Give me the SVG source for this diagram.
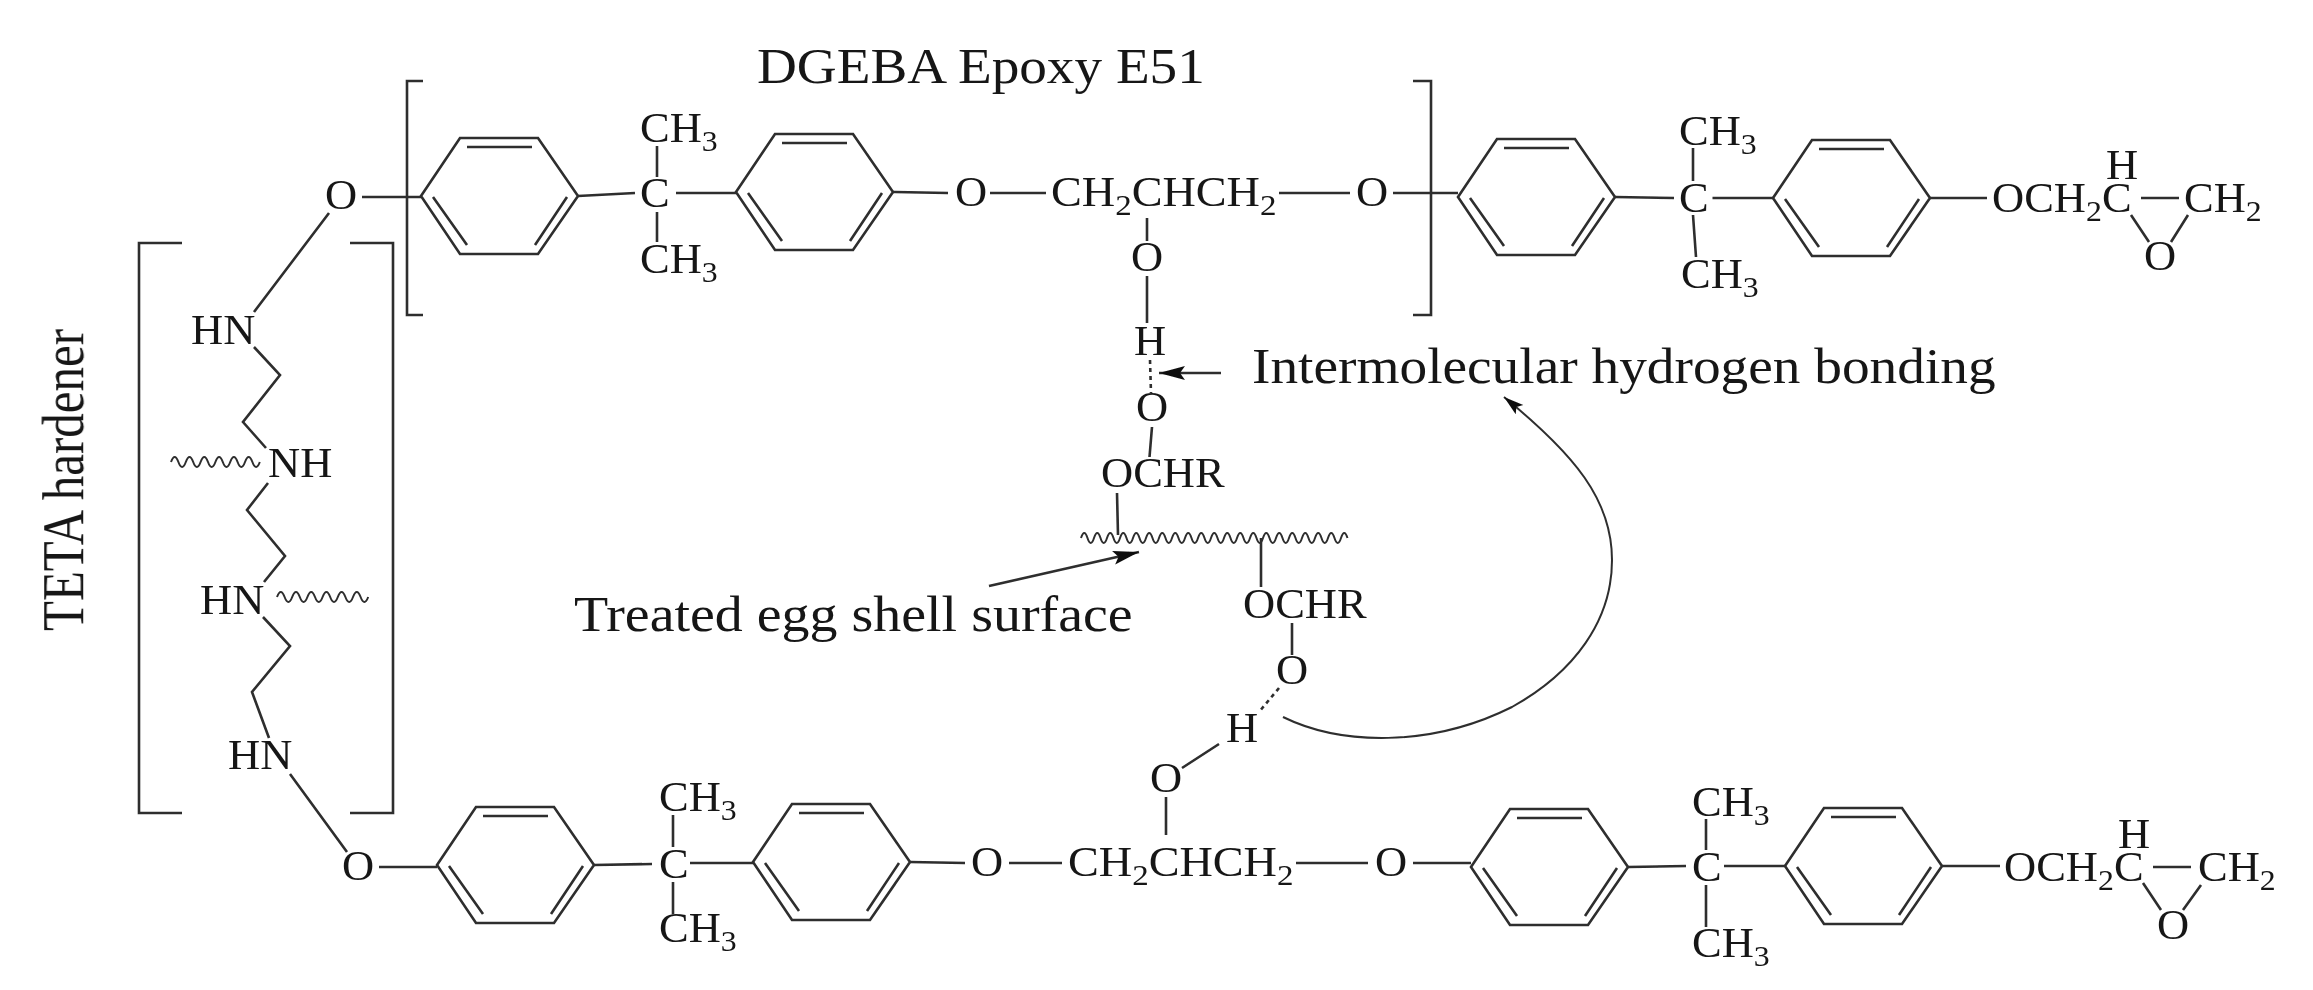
<svg xmlns="http://www.w3.org/2000/svg" xmlns:xlink="http://www.w3.org/1999/xlink" width="2313" height="990" viewBox="0 0 2313 990">
<style>
text{font-family:"Liberation Serif","Times New Roman",serif;fill:#151515}
.c{font-size:42px}
.s{font-size:30px}
.l{font-size:51px}
.b{fill:none;stroke:#2e2e2e;stroke-width:2.6;stroke-linecap:butt}
.t{fill:none;stroke:#2e2e2e;stroke-width:2.6}
.w{fill:none;stroke:#2e2e2e;stroke-width:2}
.d{fill:none;stroke:#2e2e2e;stroke-width:2.6;stroke-dasharray:4 4}
</style>
<defs>
<filter id="soft" x="0" y="0" width="100%" height="100%"><feGaussianBlur stdDeviation="0.5"/></filter>
<g id="ring" class="t">
<path d="M0 0L39 -58H117L157 0L117 58H39Z"/>
<path d="M46 -49H111M12 1L46 49M146 1L114 49"/>
</g>
<marker id="ah" markerUnits="userSpaceOnUse" markerWidth="30" markerHeight="16" refX="26" refY="7" orient="auto"><path d="M0 0L26 7L0 14L5 7Z" fill="#111"/></marker>
<marker id="ac" markerUnits="userSpaceOnUse" markerWidth="24" markerHeight="14" refX="20" refY="6" orient="auto"><path d="M0 0L20 6L0 12L4 6Z" fill="#111"/></marker>
</defs>
<rect width="2313" height="990" fill="#fff"/>
<g id="drawing" filter="url(#soft)">
<g id="connectors" class="b">
<path d="M362 197H421M578 196L635 193M676 193H736M657 146V177M657 212V242"/>
<path d="M893 192L948 193M990 193H1046M1279 193H1350M1393 193H1458"/>
<path d="M1147 218V241M1147 276V323"/>
<path class="d" d="M1150 360L1151 393"/>
<path d="M1152 427L1149.500 457M1117 493L1118 535M1261 538V587M1292 623V655"/>
<path class="d" d="M1279 688L1259 712"/>
<path d="M1219 744L1182 768M1166 797V835"/>
<path d="M329 213L254 312M254 347L280 375L243 422L266 448M268 483L247 510L285 556L264 582M263 617L290 646L252 692L269 738M290 774L347 852"/>
<path d="M379 867H437M594 865L652 864M690 863H753M673 815V847M673 882V914"/>
<path d="M910 862L965 863M1009 863H1062M1296 863H1368M1413 863H1471"/>
<path d="M1615 197L1674 198M1712.500 198H1773M1693 148V181M1693 215L1696 257M1930 198H1987M2141 198H2179M2131 215L2149 242M2188 215L2171 242"/>
<path d="M1628 867L1686 866M1724 866H1785M1706 819V850M1706 885V927M1942 866H2000M2153 867H2191M2143 883L2161 910M2201 885L2183 910"/>
<path d="M1221 373H1159" marker-end="url(#ah)"/>
<path d="M989 586L1139 552" marker-end="url(#ah)"/>
<path class="w" d="M1283 717C1340 745 1430 748 1512 707C1575 672 1612 620 1612 560C1612 500 1575 455 1504 397" marker-end="url(#ac)"/>
</g>

<g id="bracket-epoxy-left" class="t"><path d="M423 81H407V315H423"/></g>
<g id="bracket-epoxy-right" class="t"><path d="M1413 81H1431V315H1413"/></g>
<g id="bracket-teta-left" class="t"><path d="M182 243H139V813H182"/></g>
<g id="bracket-teta-right" class="t"><path d="M350 243H393V813H350"/></g>

<g id="surface"><path class="w" d="M1081 538q3.250 -10 6.500 0t6.500 0t6.500 0t6.500 0t6.500 0t6.500 0t6.500 0t6.500 0t6.500 0t6.500 0t6.500 0t6.500 0t6.500 0t6.500 0t6.500 0t6.500 0t6.500 0t6.500 0t6.500 0t6.500 0t6.500 0t6.500 0t6.500 0t6.500 0t6.500 0t6.500 0t6.500 0t6.500 0t6.500 0t6.500 0t6.500 0t6.500 0t6.500 0t6.500 0t6.500 0t6.500 0t6.500 0t6.500 0t6.500 0t6.500 0t6.500 0"/></g>
<g id="wave-nh"><path class="w" d="M171 462q3.700 -10 7.400 0t7.400 0t7.400 0t7.400 0t7.400 0t7.400 0t7.400 0t7.400 0t7.400 0t7.400 0t7.400 0t7.400 0"/></g>
<g id="wave-hn"><path class="w" d="M277 597q3.800 -10 7.600 0t7.600 0t7.600 0t7.600 0t7.600 0t7.600 0t7.600 0t7.600 0t7.600 0t7.600 0t7.600 0t7.600 0"/></g>

<g id="ring-a"><use xlink:href="#ring" href="#ring" x="421" y="196"/></g>
<g id="ring-b"><use xlink:href="#ring" href="#ring" x="736" y="192"/></g>
<g id="ring-c"><use xlink:href="#ring" href="#ring" x="1458" y="197"/></g>
<g id="ring-d"><use xlink:href="#ring" href="#ring" x="1773" y="198"/></g>
<g id="ring-e"><use xlink:href="#ring" href="#ring" x="437" y="865"/></g>
<g id="ring-f"><use xlink:href="#ring" href="#ring" x="753" y="862"/></g>
<g id="ring-g"><use xlink:href="#ring" href="#ring" x="1471" y="867"/></g>
<g id="ring-h"><use xlink:href="#ring" href="#ring" x="1785" y="866"/></g>

<g id="label-dgeba"><text class="l" transform="translate(757 83) scale(1.083 1)">DGEBA Epoxy E51</text></g>
<g id="label-teta"><text font-size="49" transform="translate(83 631) scale(1.2 1) rotate(-90)">TETA hardener</text></g>
<g id="label-hbond"><text class="l" transform="translate(1252 383) scale(1.085 1)">Intermolecular hydrogen bonding</text></g>
<g id="label-surface"><text class="l" transform="translate(574 631) scale(1.097 1)">Treated egg shell surface</text></g>

<g id="top-left-o"><text class="c" transform="translate(325 209) scale(1.06 1)">O</text></g>
<g id="hn1"><text class="c" transform="translate(191 344) scale(1.06 1)">HN</text></g>
<g id="nh"><text class="c" transform="translate(268 477) scale(1.06 1)">NH</text></g>
<g id="hn2"><text class="c" transform="translate(200 614) scale(1.06 1)">HN</text></g>
<g id="hn3"><text class="c" transform="translate(228 769) scale(1.06 1)">HN</text></g>
<g id="bottom-left-o"><text class="c" transform="translate(342 880) scale(1.06 1)">O</text></g>

<g id="cme2-a">
<text class="c" transform="translate(640 142) scale(1.06 1)">CH<tspan class="s" dy="9">3</tspan></text>
<text class="c" transform="translate(640 207) scale(1.06 1)">C</text>
<text class="c" transform="translate(640 273) scale(1.06 1)">CH<tspan class="s" dy="9">3</tspan></text>
</g>
<g id="cme2-b">
<text class="c" transform="translate(1679 145) scale(1.06 1)">CH<tspan class="s" dy="9">3</tspan></text>
<text class="c" transform="translate(1679 212) scale(1.06 1)">C</text>
<text class="c" transform="translate(1681 288) scale(1.06 1)">CH<tspan class="s" dy="9">3</tspan></text>
</g>
<g id="cme2-c">
<text class="c" transform="translate(659 811) scale(1.06 1)">CH<tspan class="s" dy="9">3</tspan></text>
<text class="c" transform="translate(659 878) scale(1.06 1)">C</text>
<text class="c" transform="translate(659 942) scale(1.06 1)">CH<tspan class="s" dy="9">3</tspan></text>
</g>
<g id="cme2-d">
<text class="c" transform="translate(1692 816) scale(1.06 1)">CH<tspan class="s" dy="9">3</tspan></text>
<text class="c" transform="translate(1692 881) scale(1.06 1)">C</text>
<text class="c" transform="translate(1692 957) scale(1.06 1)">CH<tspan class="s" dy="9">3</tspan></text>
</g>

<g id="linker-top">
<text class="c" transform="translate(955 206) scale(1.06 1)">O</text>
<text class="c" transform="translate(1051 206) scale(1.1 1)">CH<tspan class="s" dy="9">2</tspan><tspan dy="-9">CHCH</tspan><tspan class="s" dy="9">2</tspan></text>
<text class="c" transform="translate(1356 206) scale(1.06 1)">O</text>
</g>
<g id="hydroxyl-top">
<text class="c" transform="translate(1131 271) scale(1.06 1)">O</text>
<text class="c" transform="translate(1134 355) scale(1.06 1)">H</text>
</g>
<g id="surface-group-1">
<text class="c" transform="translate(1136 421) scale(1.06 1)">O</text>
<text class="c" transform="translate(1101 487) scale(1.06 1)">OCHR</text>
</g>
<g id="surface-group-2">
<text class="c" transform="translate(1243 618) scale(1.06 1)">OCHR</text>
<text class="c" transform="translate(1276 684) scale(1.06 1)">O</text>
</g>
<g id="hydroxyl-bottom">
<text class="c" transform="translate(1226 742) scale(1.06 1)">H</text>
<text class="c" transform="translate(1150 792) scale(1.06 1)">O</text>
</g>
<g id="linker-bottom">
<text class="c" transform="translate(971 876) scale(1.06 1)">O</text>
<text class="c" transform="translate(1068 876) scale(1.1 1)">CH<tspan class="s" dy="9">2</tspan><tspan dy="-9">CHCH</tspan><tspan class="s" dy="9">2</tspan></text>
<text class="c" transform="translate(1375 876) scale(1.06 1)">O</text>
</g>
<g id="epoxide-top">
<text class="c" transform="translate(1992 212) scale(1.06 1)">OCH<tspan class="s" dy="9">2</tspan><tspan dy="-9">C</tspan></text>
<text class="c" transform="translate(2106 179) scale(1.06 1)">H</text>
<text class="c" transform="translate(2184 212) scale(1.06 1)">CH<tspan class="s" dy="9">2</tspan></text>
<text class="c" transform="translate(2144 270) scale(1.06 1)">O</text>
</g>
<g id="epoxide-bottom">
<text class="c" transform="translate(2004 881) scale(1.06 1)">OCH<tspan class="s" dy="9">2</tspan><tspan dy="-9">C</tspan></text>
<text class="c" transform="translate(2118 848) scale(1.06 1)">H</text>
<text class="c" transform="translate(2198 881) scale(1.06 1)">CH<tspan class="s" dy="9">2</tspan></text>
<text class="c" transform="translate(2157 939) scale(1.06 1)">O</text>
</g>
</g>
</svg>
